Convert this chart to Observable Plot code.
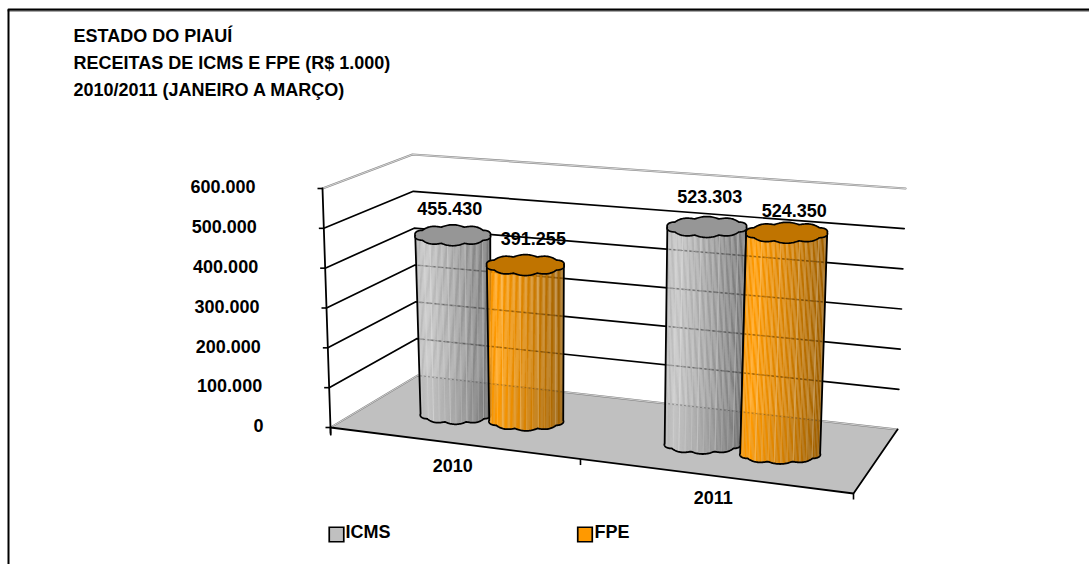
<!DOCTYPE html>
<html><head><meta charset="utf-8">
<script src="https://cdn.jsdelivr.net/npm/d3@7"></script>
<script src="https://cdn.jsdelivr.net/npm/@observablehq/plot@0.6"></script>
<style>html,body{margin:0;padding:0;background:#fff}svg{display:block}</style>
</head><body><div id="chart"></div>
<script>
// ---- data ----
const titleLines = ["ESTADO DO PIAUÍ", "RECEITAS DE ICMS E FPE (R$ 1.000)", "2010/2011 (JANEIRO A MARÇO)"];
const categories = ["2010", "2011"];
const seriesNames = ["ICMS", "FPE"];
const icmsValues = [455430, 523303];
const fpeValues = [391255, 524350];
const axisTicks = [0, 100000, 200000, 300000, 400000, 500000, 600000];

// ---- 3-D box: pixel position of its corners (value 0 and value max) ----
const maxValue = 600000;
const FL = [330, 427], FR = [853, 493], BL = [417, 375], BR = [897, 429];
const hFL = [-8, -239], hFR = [13, -271], hBL = [-5, -221], hBR = [8, -241];
const mix = (a, b, t) => [a[0] + (b[0] - a[0]) * t, a[1] + (b[1] - a[1]) * t];
function project(u, w, v) {
  const base = mix(mix(FL, FR, u), mix(BL, BR, u), w);
  const h = mix(mix(hFL, hFR, u), mix(hBL, hBR, u), w);
  const f = v / maxValue;
  return [base[0] + h[0] * f, base[1] + h[1] * f];
}
const pt = (p, extra) => ({x: p[0], y: p[1], ...extra});
const fmt = v => d3.format(",")(v).replace(/,/g, ".");

// ---- placement of each cylinder on the floor ----
const bars = [
  {name: "ICMS", cat: 0, value: icmsValues[0], u: .169, w: .46, aB: 35, aT: 37.5, lx: -3, ly: -26.5},
  {name: "FPE",  cat: 0, value: fpeValues[0],  u: .305, w: .49, aB: 37, aT: 38.5, lx: 8, ly: -26},
  {name: "ICMS", cat: 1, value: icmsValues[1], u: .66,  w: .46, aB: 38, aT: 39.5, lx: 3, ly: -30},
  {name: "FPE",  cat: 1, value: fpeValues[1],  u: .815, w: .45, aB: 40, aT: 40.5, lx: 7.5, ly: -22}
];
const bodyRamp = {
  ICMS: d3.scaleLinear().domain([0, .12, .5, 1]).range(["#b4b4b4", "#c4c4c4", "#a4a4a4", "#747474"]),
  FPE:  d3.scaleLinear().domain([0, .12, .5, 1]).range(["#f09000", "#ff9a00", "#d88200", "#9c5e00"])
};
const capColor = {ICMS: "#969696", FPE: "#c07400"};
const legendColor = {ICMS: "#c0c0c0", FPE: "#ff9900"};
const bS = 8.5, scallop = 2, lobes = 5, nStrips = 64;
function rim(cx, cy, a, b, th) {
  const k = Math.abs(Math.sin(lobes * th)) * scallop;
  return [cx + (a + k * .5) * Math.cos(th), cy + (b + k) * Math.sin(th)];
}

const strips = [], caps = [], outlines = [], dots = [], valueLabels = [];
bars.forEach((d, i) => {
  const B = project(d.u, d.w, 0), T = project(d.u, d.w, d.value);
  for (let k = 0; k < nStrips; k++) {
    const t0 = k / nStrips, t1 = (k + 1) / nStrips;
    const th0 = Math.acos(1 - 2 * t0), th1 = Math.acos(1 - 2 * t1);
    const a0 = Math.PI - th0, a1 = Math.PI - th1;
    const tm = (t0 + t1) / 2;
    let c = bodyRamp[d.name](tm);
    if (k % 5 === 2) c = d3.interpolateRgb(c, "#ffffff")(k % 3 === 0 ? .26 : .14);
    const id = i + "-" + k;
    const xT0 = T[0] - d.aT * (1 - 2 * t0), xT1 = T[0] - d.aT * (1 - 2 * t1);
    const pB0 = rim(B[0], B[1], d.aB, bS, a0), pB1 = rim(B[0], B[1], d.aB, bS, a1);
    strips.push(
      {x: xT0, y: T[1] + 2, id, c}, {x: xT1, y: T[1] + 2, id, c},
      {x: pB1[0], y: pB1[1], id, c}, {x: pB0[0], y: pB0[1], id, c}
    );
  }
  const N = 240;
  for (let k = 0; k <= N; k++) {
    const th = 2 * Math.PI * k / N;
    const p = rim(T[0], T[1], d.aT, bS, th);
    caps.push({x: p[0], y: p[1], id: i, c: capColor[d.name]});
  }
  outlines.push({x: T[0] - d.aT, y: T[1], id: i});
  for (let k = N / 2; k >= 0; k--) {
    const p = rim(B[0], B[1], d.aB, bS, Math.PI * k / (N / 2));
    outlines.push({x: p[0], y: p[1], id: i});
  }
  outlines.push({x: T[0] + d.aT, y: T[1], id: i});
  axisTicks.forEach(v => {
    const uL = (B[0] - d.aB - BL[0]) / (BR[0] - BL[0]), uR = (B[0] + d.aB - BL[0]) / (BR[0] - BL[0]);
    const L = project(uL, 1, v), R = project(uR, 1, v);
    if (L[1] > T[1] + 14 && R[1] < B[1] + 6) {
      dots.push(pt(L, {id: i + "-" + v}), pt(R, {id: i + "-" + v}));
    }
  });
  valueLabels.push({x: T[0] + d.lx, y: T[1] + d.ly, text: fmt(d.value)});
});

// walls & floor
const innerTicks = axisTicks.filter(v => v > 0 && v < maxValue);
const gridRows = innerTicks.flatMap(v => [
  pt(project(0, 0, v), {v}), pt(project(0, 1, v), {v}), pt(project(1, 1, v), {v})
]);
const topRow = [project(0, 0, maxValue), project(0, 1, maxValue), project(1, 1, maxValue)].map(p => pt(p));
const floorPoly = [[0, 0], [1, 0], [1, 1], [0, 1]].map(([u, w]) => pt(project(u, w, 0)));
const floorBack = [[0, 0], [0, 1], [1, 1]].map(([u, w]) => pt(project(u, w, 0)));
const floorFront = [[0, 0], [1, 0], [1, 1]].map(([u, w]) => pt(project(u, w, 0)));

const yTicks = axisTicks.map(v => { const p = project(0, 0, v); return {x: p[0], y: p[1], label: fmt(v)}; });
const xTickU = [0, .478, 1];
const xTickRows = xTickU.map(u => { const p = project(u, 0, 0); return {x: p[0], y: p[1]}; });
const catLabelU = [.232, .73];
const catLabels = categories.map((c, i) => {
  const p = project(catLabelU[i], 0, 0);
  return {x: p[0], y: p[1], label: c};
});
const legendItems = [
  {name: seriesNames[0], x: 336, y: 534, tx: 345},
  {name: seriesNames[1], x: 584.5, y: 534, tx: 594}
];

const txt = {fontFamily: "Liberation Sans", fontWeight: "bold", fill: "#000", fontSize: 18};

const chart = Plot.plot({
  width: 1089, height: 564, margin: 0,
  x: {domain: [0, 1089], range: [0, 1089], axis: null},
  y: {domain: [0, 564], range: [0, 564], axis: null},
  color: {type: "identity"},
  style: {background: "#fff", overflow: "visible"},
  marks: [
    Plot.line([{x: 8, y: 10}, {x: 1089, y: 10}], {x: "x", y: "y", stroke: "#8a8a8a", strokeWidth: 2.5}),
    Plot.line([{x: 8, y: 564}, {x: 8, y: 9}, {x: 1089, y: 9}], {x: "x", y: "y", stroke: "#000", strokeWidth: 2}),
    Plot.text(titleLines, {x: 73, y: (d, i) => 36 + i * 27, text: d => d, textAnchor: "start", ...txt}),
    Plot.line(floorPoly, {x: "x", y: "y", fill: "#c0c0c0", stroke: "none"}),
    Plot.line(floorBack, {x: "x", y: "y", stroke: "#808080", strokeWidth: 2}),
    Plot.line(floorBack, {x: "x", y: "y", stroke: "#f0f0f0", strokeWidth: .7}),
    Plot.line(topRow, {x: "x", y: "y", stroke: "#8c8c8c", strokeWidth: 2.2}),
    Plot.line(topRow, {x: "x", y: "y", stroke: "#f4f4f4", strokeWidth: .7}),
    Plot.line(gridRows, {x: "x", y: "y", z: "v", stroke: "#000", strokeWidth: 1.7}),
    Plot.line(floorFront, {x: "x", y: "y", stroke: "#000", strokeWidth: 1.8}),
    Plot.line([project(0, 0, maxValue), project(0, 0, -18000)].map(p => pt(p)), {x: "x", y: "y", stroke: "#000", strokeWidth: 1.8}),
    Plot.link(yTicks, {x1: d => d.x - 5, y1: d => d.y, x2: "x", y2: "y", stroke: "#000", strokeWidth: 1.6}),
    Plot.text(yTicks, {x: "x", y: "y", text: "label", dx: -67, dy: -1, textAnchor: "end", ...txt}),
    Plot.link(xTickRows, {x1: "x", y1: "y", x2: "x", y2: d => d.y + 6, stroke: "#000", strokeWidth: 1.6}),
    Plot.text(catLabels, {x: "x", y: "y", text: "label", dx: 1, dy: 23, ...txt}),
    ...bars.flatMap((d, i) => {
      const sel = r => String(r.id).split("-")[0] === String(i);
      return [
        Plot.line(strips.filter(sel), {x: "x", y: "y", z: "id", fill: "c", stroke: "c", strokeWidth: .25}),
        Plot.line(dots.filter(sel), {x: "x", y: "y", z: "id", stroke: "#333", strokeOpacity: .4, strokeWidth: 1, strokeDasharray: "1,3"}),
        Plot.line(outlines.filter(sel), {x: "x", y: "y", stroke: "#000", strokeWidth: 1.8}),
        Plot.line(caps.filter(sel), {x: "x", y: "y", fill: "c", stroke: "#000", strokeWidth: 1.7})
      ];
    }),
    Plot.text(valueLabels, {x: "x", y: "y", text: "text", ...txt}),
    Plot.dot(legendItems, {x: "x", y: "y", symbol: "square", r: 8.2, fill: d => legendColor[d.name], stroke: "#000", strokeWidth: 1.7}),
    Plot.text(legendItems, {x: "tx", y: d => d.y - 2, text: "name", textAnchor: "start", ...txt})
  ]
});
document.getElementById("chart").append(chart);
</script></body></html>
